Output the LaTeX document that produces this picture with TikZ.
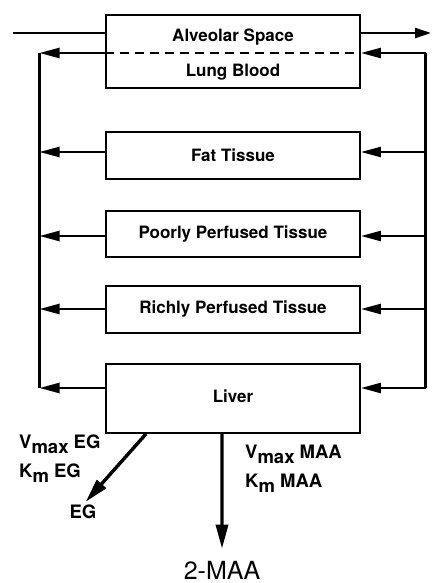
\documentclass[tikz,border=0pt]{standalone}
\usepackage{fontspec}
\setmainfont{TeX Gyre Heros}
\usetikzlibrary{arrows.meta,calc}
\newcommand\lowsub[1]{\raisebox{-0.5ex}{#1}}
\begin{document}
\begin{tikzpicture}[x=1pt,y=-1pt,
  box/.style={draw,line width=1.8pt,minimum width=254pt,inner sep=0pt,font=\fontsize{17}{19}\selectfont\bfseries},
  txt/.style={inner sep=0pt,font=\fontsize{17}{19}\selectfont\bfseries},
  lab/.style={inner sep=0pt,anchor=west,font=\fontsize{18.5}{20}\selectfont\bfseries},
  vline/.style={line width=3pt},
  flow/.style={line width=2.4pt,-{Triangle[length=20pt,width=10pt]}},
  big/.style={line width=3.4pt,-{Triangle[length=24pt,width=12pt]}}]
\useasboundingbox (0,0) rectangle (431,583);
% boxes
\node[box,minimum height=73pt] (lung) at (233,51.5) {};
\node[txt] (alv) at (233,37) {Alveolar Space};
\node[txt] (lb) at (233,72) {Lung Blood};
\node[box,minimum height=47pt] (fat) at (233,155.5) {Fat Tissue};
\node[box,minimum height=46pt] (poor) at (233,234) {Poorly Perfused Tissue};
\node[box,minimum height=47pt] (rich) at (233,309.5) {Richly Perfused Tissue};
\node[box,minimum height=69pt] (liver) at (233,398.5) {};
\node[txt] (livt) at (233,396) {Liver};
% reference coordinates
\coordinate (Lx) at (39.5,0);
\coordinate (Rx) at (425.5,0);
\coordinate (lungrow) at (0,53);
\coordinate (fatrow) at (0,152);
\coordinate (poorrow) at (0,236);
\coordinate (richrow) at (0,309);
\coordinate (livrow) at (0,388);
\coordinate (in) at (13,33);
\coordinate (out) at (431,33);
% dashed divider
\draw[line width=1.5pt,dash pattern=on 9pt off 6pt] (lung.west |- lungrow) -- (lung.east |- lungrow);
% in/out of lungs
\draw[line width=2.4pt] (in) -- (in -| lung.west);
\draw[line width=2.4pt,-{Triangle[length=16pt,width=10pt]}] (out -| lung.east) -- (out);
% vertical lines
\draw[vline] (Lx |- lungrow) -- (Lx |- livrow);
\draw[vline] (Rx |- lungrow) -- (Rx |- livrow);
% left arrows (venous return)
\draw[flow] (lung.west |- lungrow) -- (Lx |- lungrow);
\draw[flow] (fat.west |- fatrow) -- (Lx |- fatrow);
\draw[flow] (poor.west |- poorrow) -- (Lx |- poorrow);
\draw[flow] (rich.west |- richrow) -- (Lx |- richrow);
\draw[flow] (liver.west |- livrow) -- (Lx |- livrow);
% right arrows (arterial supply)
\draw[flow] (Rx |- lungrow) -- (lung.east |- lungrow);
\draw[flow] (Rx |- fatrow) -- (fat.east |- fatrow);
\draw[flow] (Rx |- poorrow) -- (poor.east |- poorrow);
\draw[flow] (Rx |- richrow) -- (rich.east |- richrow);
\draw[flow] (Rx |- livrow) -- (liver.east |- livrow);
% metabolism
\node[inner sep=0pt,font=\fontsize{18.5}{20}\selectfont\bfseries] (eg) at (83,512) {EG};
\node[inner sep=0pt,font=\fontsize{25}{27}\selectfont] (maa) at (222,570) {2-MAA};
\coordinate (eg0) at ($(liver.south west)!0.16!(liver.south east)$);
\coordinate (maa0) at ($(liver.south west)!0.457!(liver.south east)$);
\draw[big,shorten >=4pt] (eg0) -- (eg.north);
\draw[big,shorten >=12pt] (maa0) -- (maa.north);
\node[lab] (v1) at (19,444) {V\lowsub{max} EG};
\node[lab] (k1) at (19,473) {K\lowsub{m} EG};
\node[lab] (v2) at (245,454) {V\lowsub{max} MAA};
\node[lab] (k2) at (245,483) {K\lowsub{m} MAA};
\end{tikzpicture}
\end{document}
